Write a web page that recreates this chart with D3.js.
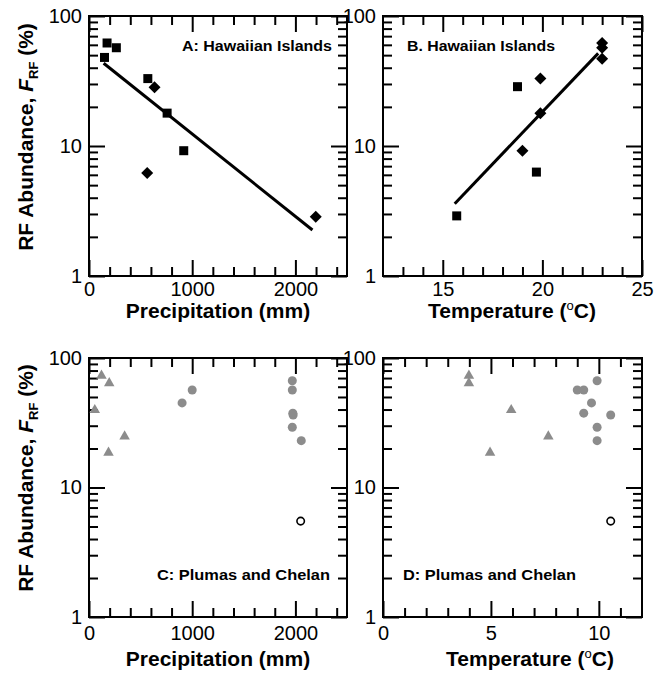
<!DOCTYPE html>
<html><head><meta charset="utf-8">
<script src="https://cdn.jsdelivr.net/npm/d3@7"></script>
<style>
body{margin:0;background:#fff}
text{font-family:"Liberation Sans",Arial,Helvetica,sans-serif}
</style>
</head><body><svg id="c" width="654" height="675" xmlns="http://www.w3.org/2000/svg"></svg>
<script>
// ---------- data ----------
// Panel A (Hawaiian Islands, precipitation)
const hawaiiSqPrecip = [150, 175, 265, 570, 757, 918];
const hawaiiSqAbundA = [48, 62, 57, 33, 17.9, 9.2];
const hawaiiDiPrecip = [635, 564, 2197];
const hawaiiDiAbundA = [28.3, 6.2, 2.86];
const hawaiiFitPrecip = [142, 2165];
const hawaiiFitAbundA = [43.3, 2.26];
// Panel B (Hawaiian Islands, temperature)
const hawaiiSqTemp = [15.7, 18.75, 19.7];
const hawaiiSqAbundB = [2.9, 28.6, 6.3];
const hawaiiDiTemp = [19.9, 19.9, 19.0, 23, 23, 23];
const hawaiiDiAbundB = [33, 17.9, 9.2, 62, 57, 47];
const hawaiiFitTemp = [15.6, 22.8];
const hawaiiFitAbundB = [3.6, 51.6];
// Panels C & D (Plumas and Chelan)
const pcTriPrecip = [56, 121, 196, 189, 345];
const pcTriTemp = [5.94, 3.98, 3.98, 4.96, 7.66];
const pcTriAbund = [39.7, 73, 64, 18.6, 24.8];
const pcCirPrecip = [1970, 1000, 1970, 902, 1975, 1978, 1970, 2057];
const pcCirTemp = [9.92, 9.0, 9.3, 9.66, 9.3, 10.55, 9.92, 9.92];
const pcCirAbund = [66.8, 56.6, 56.6, 45, 37.5, 36.3, 29.2, 23];
const pcOpenPrecip = [2051];
const pcOpenTemp = [10.55];
const pcOpenAbund = [5.5];
// ticks
const abundTicks = [1, 10, 100];
const abundMinor = [2,3,4,5,6,7,8,9,20,30,40,50,60,70,80,90];
const precipTicks = [0, 1000, 2000];
const precipMinor = [200,400,600,800,1200,1400,1600,1800,2200,2400];
const tempTicksB = [15, 20, 25];
const tempMinorB = [13,14,16,17,18,19,21,22,23,24];
const tempTicksD = [0, 5, 10];
const tempMinorD = [1,2,3,4,6,7,8,9,11];

const GRAY = "#8c8c8c";
const svg = d3.select("#c");
const zip = (a, b) => a.map((v, i) => [v, b[i]]);

function panel(o) {
  const x = d3.scaleLinear().domain(o.xdom).range([o.x0, o.x1]);
  const y = d3.scaleLog().domain([1, 100]).range([o.y1, o.y0]);
  const g = svg.append("g");
  // frame
  g.append("rect").attr("x", o.x0).attr("y", o.y0)
    .attr("width", o.x1 - o.x0).attr("height", o.y1 - o.y0)
    .attr("fill", "none").attr("stroke", "#000").attr("stroke-width", 2);
  // inward ticks on all four sides via d3 axes (major long, minor short)
  const defs = [
    [() => d3.axisBottom(x), o.xt, o.xm, `translate(0,${o.y1})`, true],
    [() => d3.axisTop(x), o.xt, o.xm, `translate(0,${o.y0})`, false],
    [() => d3.axisLeft(y), abundTicks, abundMinor, `translate(${o.x0},0)`, true],
    [() => d3.axisRight(y), abundTicks, abundMinor, `translate(${o.x1},0)`, false]
  ];
  defs.forEach(([mk, maj, min, tr, lab], i) => {
    const pad = i === 2 ? 7 : o.pad;
    const a1 = g.append("g").attr("transform", tr)
      .call(mk().tickValues(maj).tickSizeInner(-16).tickSizeOuter(0).tickPadding(pad + 0)
        .tickFormat(lab ? d3.format("d") : () => ""));
    const a2 = g.append("g").attr("transform", tr)
      .call(mk().tickValues(min).tickSizeInner(-9).tickSizeOuter(0).tickFormat(() => ""));
    [a1, a2].forEach(a => {
      a.select(".domain").remove();
      a.selectAll(".tick line").attr("stroke", "#000").attr("stroke-width", 2);
      a.selectAll(".tick text").attr("font-size", 20).attr("fill", "#000")
        .attr("font-family", "Liberation Sans, Arial, sans-serif");
    });
    // labels sit outside the frame: shift them past the inward tick length
    if (lab) {
      if (i === 0) a1.selectAll(".tick text").attr("y", pad).attr("dy", "0.71em");
      else a1.selectAll(".tick text").attr("x", -pad).attr("dy", "0.32em");
    }
  });
  return {x, y, g};
}

function sym(g, x, y, xs, ys, type, size, fill, rot, stroke) {
  g.selectAll(null).data(zip(xs, ys)).join("path")
    .attr("d", d3.symbol().type(type).size(size))
    .attr("transform", d => `translate(${x(d[0])},${y(d[1])}) rotate(${rot || 0})`)
    .attr("fill", fill)
    .attr("stroke", stroke || "none").attr("stroke-width", 1.6);
}
function fit(g, x, y, xs, ys) {
  g.append("path").datum(zip(xs, ys))
    .attr("d", d3.line().x(d => x(d[0])).y(d => y(d[1])))
    .attr("fill", "none").attr("stroke", "#000").attr("stroke-width", 3);
}
function label(g, txt, x, y, len) {
  g.append("text").attr("x", x).attr("y", y).attr("font-size", 14)
    .attr("font-weight", "bold").attr("textLength", len)
    .attr("lengthAdjust", "spacingAndGlyphs").text(txt);
}
function xTitle(g, cx, y, kind) {
  const t = g.append("text").attr("x", cx).attr("y", y).attr("text-anchor", "middle")
    .attr("font-size", 21).attr("font-weight", "bold");
  if (kind === "p") t.text("Precipitation (mm)");
  else {
    t.append("tspan").text("Temperature (");
    t.append("tspan").attr("font-size", 13).attr("font-weight", "normal").attr("dy", -8).text("o");
    t.append("tspan").attr("dy", 8).text("C)");
  }
}
function yTitle(g, x, cy) {
  const t = g.append("text").attr("transform", `translate(${x},${cy}) rotate(-90)`)
    .attr("text-anchor", "middle").attr("font-size", 21).attr("font-weight", "bold");
  t.append("tspan").text("RF Abundance, ");
  t.append("tspan").attr("font-style", "italic").text("F");
  t.append("tspan").attr("font-size", 13).attr("dy", 5).text("RF");
  t.append("tspan").attr("dy", -5).text(" (%)");
}

// Panel A
const A = panel({x0: 89, x1: 347, y0: 16, y1: 276, xdom: [0, 2500], xt: precipTicks, xm: precipMinor, pad: 6});
fit(A.g, A.x, A.y, hawaiiFitPrecip, hawaiiFitAbundA);
sym(A.g, A.x, A.y, hawaiiSqPrecip, hawaiiSqAbundA, d3.symbolSquare, 81, "#000");
sym(A.g, A.x, A.y, hawaiiDiPrecip, hawaiiDiAbundA, d3.symbolSquare, 72, "#000", 45);
label(A.g, "A: Hawaiian Islands", 182, 51, 150);
xTitle(A.g, 218, 318, "p");
yTitle(A.g, 33, 137);

// Panel B
const B = panel({x0: 383, x1: 642, y0: 16, y1: 276, xdom: [12, 25], xt: tempTicksB, xm: tempMinorB, pad: 6});
fit(B.g, B.x, B.y, hawaiiFitTemp, hawaiiFitAbundB);
sym(B.g, B.x, B.y, hawaiiSqTemp, hawaiiSqAbundB, d3.symbolSquare, 81, "#000");
sym(B.g, B.x, B.y, hawaiiDiTemp, hawaiiDiAbundB, d3.symbolSquare, 72, "#000", 45);
label(B.g, "B. Hawaiian Islands", 407, 51, 148);
xTitle(B.g, 512, 318, "t");

// Panel C
const C = panel({x0: 89, x1: 347, y0: 358, y1: 617, xdom: [0, 2500], xt: precipTicks, xm: precipMinor, pad: 9});
sym(C.g, C.x, C.y, pcTriPrecip, pcTriAbund, d3.symbolTriangle, 48, GRAY);
sym(C.g, C.x, C.y, pcCirPrecip, pcCirAbund, d3.symbolCircle, 64, GRAY);
sym(C.g, C.x, C.y, pcOpenPrecip, pcOpenAbund, d3.symbolCircle, 44, "#fff", 0, "#000");
label(C.g, "C: Plumas and Chelan", 157, 580, 173);
xTitle(C.g, 218, 666, "p");
yTitle(C.g, 33, 478);

// Panel D
const D = panel({x0: 383, x1: 642, y0: 358, y1: 617, xdom: [0, 12], xt: tempTicksD, xm: tempMinorD, pad: 9});
sym(D.g, D.x, D.y, pcTriTemp, pcTriAbund, d3.symbolTriangle, 48, GRAY);
sym(D.g, D.x, D.y, pcCirTemp, pcCirAbund, d3.symbolCircle, 64, GRAY);
sym(D.g, D.x, D.y, pcOpenTemp, pcOpenAbund, d3.symbolCircle, 44, "#fff", 0, "#000");
label(D.g, "D: Plumas and Chelan", 403, 580, 173);
xTitle(D.g, 530, 666, "t");
</script></body></html>
